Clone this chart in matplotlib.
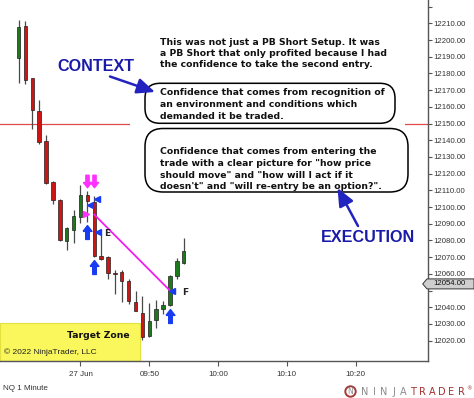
import matplotlib
matplotlib.use("Agg")
import matplotlib.pyplot as plt
import matplotlib.transforms as mtransforms
from matplotlib.patches import FancyBboxPatch, Rectangle, Polygon, Circle, FancyArrowPatch
from matplotlib.path import Path

# ---------------- data ----------------
bar_minutes = list(range(31, 56))          # minutes after 09:00 (09:31 .. 09:55)
opens  = [12189.5, 12208.5, 12177.0, 12157.5, 12139.5, 12115.0, 12104.5, 12079.5, 12086.5, 12094.0,
          12107.5, 12103.0, 12070.5, 12070.0, 12060.5, 12061.0, 12055.5, 12043.0, 12036.5, 12023.0,
          12032.5, 12039.0, 12041.5, 12059.0, 12066.5]
highs  = [12212.0, 12211.5, 12177.5, 12164.0, 12143.0, 12115.5, 12105.0, 12088.0, 12098.5, 12113.0,
          12109.5, 12106.5, 12084.0, 12070.5, 12062.5, 12062.5, 12057.0, 12049.5, 12046.5, 12042.5,
          12044.5, 12043.5, 12059.5, 12069.5, 12081.5]
lows   = [12174.0, 12173.5, 12147.0, 12138.0, 12114.0, 12102.0, 12079.5, 12074.5, 12078.5, 12090.5,
          12091.0, 12070.0, 12068.5, 12057.0, 12048.0, 12043.0, 12042.0, 12037.5, 12020.5, 12022.0,
          12027.5, 12036.0, 12040.5, 12057.0, 12066.0]
closes = [12208.0, 12176.0, 12158.0, 12139.0, 12114.5, 12104.5, 12080.5, 12087.5, 12094.5, 12107.0,
          12103.5, 12070.5, 12069.0, 12060.5, 12060.0, 12055.5, 12043.5, 12038.0, 12022.5, 12032.0,
          12039.0, 12041.5, 12058.5, 12067.5, 12073.5]

ref_line_price = 12150
last_price = 12054.00
target_zone_top = 12030.5
target_zone_end_minute = 48.7

x_tick_minutes = [40, 50, 60, 70, 80]
x_tick_labels = ["27 Jun", "09:50", "10:00", "10:10", "10:20"]
y_ticks = list(range(12020, 12230, 10))

# trade markers (minute, price)
short_arrow_minutes = [41, 42]
short_arrow_prices = [12115.5, 12115.5]
long_arrow_minutes = [41, 42, 53]
long_arrow_prices = [12085, 12064, 12035]
blue_tri_minutes = [41.4, 42.4, 42.55, 53.25]
blue_tri_prices = [12101, 12105, 12085, 12050]
pink_tri_minutes = [40.8]
pink_tri_prices = [12096]
trade_line_minutes = [42, 53]
trade_line_prices = [12095.5, 12050]
label_E = (43.4, 12084)
label_F = (54.8, 12049)

# ---------------- figure ----------------
W, H = 474, 398
fig = plt.figure(figsize=(W / 100, H / 100), dpi=100)
fig.patch.set_facecolor("white")
px = mtransforms.Affine2D().scale(1 / W, -1 / H).translate(0, 1) + fig.transFigure

ax = fig.add_axes([0, 37 / H, 427.5 / W, 361 / H])
ax.set_xlim(28.3, 90.44)
ax.set_ylim(12007.85, 12223.95)

# reference line
ax.axhline(ref_line_price, color="#e04a4a", lw=0.9, zorder=1)

# target zone
ax.add_patch(Rectangle((ax.get_xlim()[0], ax.get_ylim()[0]),
                       target_zone_end_minute - ax.get_xlim()[0],
                       target_zone_top - ax.get_ylim()[0],
                       facecolor="#f9f75c", edgecolor="#e4e040", lw=0.8, zorder=0.5))

# candles
green, red = "#1c7a1c", "#cf1414"
for m, o, h, l, c in zip(bar_minutes, opens, highs, lows, closes):
    ax.vlines(m, l, h, color="#4a4a4a", lw=0.9, zorder=2)
    col = green if c > o else red
    ax.bar(m, abs(c - o) if abs(c - o) > 0.4 else 0.4, bottom=min(o, c), width=0.5,
           color=col, edgecolor="#202020", lw=0.5, zorder=3)

# trade line & markers
ax.plot(trade_line_minutes, trade_line_prices, color="#f020f0", lw=1.3, zorder=4)

up_arrow = Path([(-0.32, 0.08), (0.0, 0.5), (0.32, 0.08), (0.13, 0.08), (0.13, -0.5),
                 (-0.13, -0.5), (-0.13, 0.08), (-0.32, 0.08)])
down_arrow = Path([(x, -y) for x, y in up_arrow.vertices])
ax.plot(short_arrow_minutes, short_arrow_prices, ls="none", marker=down_arrow, ms=9,
        color="#ff30ff", mec="#ff30ff", zorder=5)
ax.plot(long_arrow_minutes, long_arrow_prices, ls="none", marker=up_arrow, ms=10,
        color="#1a3cf0", mec="#1a3cf0", zorder=5)
ax.plot(blue_tri_minutes, blue_tri_prices, ls="none", marker="<", ms=4.2,
        color="#1a3cf0", mec="#1a3cf0", zorder=5)
ax.plot(pink_tri_minutes, pink_tri_prices, ls="none", marker=">", ms=4.2,
        color="#ff30ff", mec="#ff30ff", zorder=5)
ax.text(*label_E, "E", fontsize=6.5, fontweight="bold", color="#222222",
        va="center", ha="left", family="DejaVu Sans", zorder=6)
ax.text(*label_F, "F", fontsize=6.5, fontweight="bold", color="#222222",
        va="center", ha="left", family="DejaVu Sans", zorder=6)

# axes styling
for s in ["left", "top"]:
    ax.spines[s].set_visible(False)
for s in ["right", "bottom"]:
    ax.spines[s].set_color("#555555")
    ax.spines[s].set_linewidth(1.0)
ax.yaxis.tick_right()
ax.set_yticks(y_ticks)
ax.set_yticklabels(["" if v in (12050, 12220) else f"{v:.2f}" for v in y_ticks])
ax.set_xticks(x_tick_minutes)
ax.set_xticklabels(x_tick_labels)
ax.tick_params(axis="y", length=3, width=0.8, pad=1.5, labelsize=5.6, colors="#555555",
               labelcolor="#333333")
ax.tick_params(axis="x", length=3.5, width=0.8, pad=3.5, labelsize=5.8, colors="#555555",
               labelcolor="#333333")
for lab in ax.get_xticklabels() + ax.get_yticklabels():
    lab.set_family("Liberation Sans")

# price marker on the right axis
yfrac = (last_price - ax.get_ylim()[0]) / (ax.get_ylim()[1] - ax.get_ylim()[0])
ybl = mtransforms.blended_transform_factory(ax.transAxes, ax.transAxes)
hh = 5.0 / 361
x_tip = 422.7 / 427.5
x_l = 427.0 / 427.5
x_r = 474.0 / 427.5
ax.add_patch(Polygon([(x_tip, yfrac), (x_l, yfrac + hh), (x_r, yfrac + hh), (x_r, yfrac - hh),
                      (x_l, yfrac - hh)], closed=True, transform=ybl, clip_on=False,
                     facecolor="#cfcfcf", edgecolor="#333333", lw=0.7, zorder=10))
ax.text(433.0 / 427.5, yfrac, f"{last_price:.2f}", transform=ybl, fontsize=5.6,
        family="Liberation Sans", color="#111111", va="center", ha="left", zorder=11,
        clip_on=False)

# ---------------- annotations (figure-pixel coordinates) ----------------
blue_txt = "#1a1aa8"
blue_arr = "#2323c0"
fig.text(57, 71, "CONTEXT", transform=px, fontsize=11.6, fontweight="bold",
         family="Liberation Sans", color=blue_txt, va="baseline", ha="left")
fig.text(320.7, 241.7, "EXECUTION", transform=px, fontsize=11.6, fontweight="bold",
         family="Liberation Sans", color=blue_txt, va="baseline", ha="left")

# white cover behind annotation boxes (hides the reference line there)
fig.add_artist(Rectangle((130, 119), 275, 10, transform=px, facecolor="white",
                         edgecolor="none", zorder=1))

box1 = FancyBboxPatch((145, 83.3), 250, 40, boxstyle="round,pad=0,rounding_size=15",
                      transform=px, facecolor="white", edgecolor="black", lw=1.1, zorder=2)
box2 = FancyBboxPatch((145, 128.5), 263, 63.5, boxstyle="round,pad=0,rounding_size=18",
                      transform=px, facecolor="white", edgecolor="black", lw=1.1, zorder=2)
fig.add_artist(box1)
fig.add_artist(box2)

header = ["This was not just a PB Short Setup. It was",
          "a PB Short that only profited because I had",
          "the confidence to take the second entry."]
box1_lines = ["Confidence that comes from recognition of",
              "an environment and conditions which",
              "demanded it be traded."]
box2_lines = ["Confidence that comes from entering the",
              "trade with a clear picture for \"how price",
              "should move\" and \"how will I act if it",
              "doesn't\" and \"will re-entry be an option?\"."]

def put_lines(lines, x0, y0, dy):
    for i, s in enumerate(lines):
        fig.text(x0, y0 + i * dy, s, transform=px, fontsize=6.7, fontweight="bold",
                 family="DejaVu Sans", color="#111111", va="baseline", ha="left", zorder=3)

put_lines(header, 160.5, 45.0, 10.8)
put_lines(box1_lines, 160.5, 95.0, 12.0)
put_lines(box2_lines, 160.5, 154.5, 11.6)

for (x0, y0), (x1, y1) in [((110, 76.5), (155, 92)), ((358, 226), (337.5, 188))]:
    fig.add_artist(FancyArrowPatch((x0, y0), (x1, y1), transform=px,
                                   arrowstyle="-|>,head_length=0.6,head_width=0.26",
                                   mutation_scale=18, lw=1.8, color=blue_arr, zorder=4,
                                   shrinkA=0, shrinkB=0))

# target zone texts
fig.text(66.7, 338.5, "Target Zone", transform=px, fontsize=6.7, fontweight="bold",
         family="DejaVu Sans", color="#111111", va="baseline", ha="left")
fig.text(4, 354, "\u00a9 2022 NinjaTrader, LLC", transform=px, fontsize=6.0,
         family="Liberation Sans", color="#222222", va="baseline", ha="left")

# bottom texts
fig.text(3.3, 389.5, "NQ 1 Minute", transform=px, fontsize=5.8,
         family="Liberation Sans", color="#333333", va="baseline", ha="left")

# NinjaTrader logo
fig.add_artist(Circle((350.5, 391.5), 5.2, transform=px, facecolor="none",
                      edgecolor="#a23a3a", lw=1.4))
fig.text(350.5, 391.7, "N", transform=px, fontsize=5.5, color="#8a8a8a",
         family="DejaVu Sans", va="center", ha="center")
for i, ch in enumerate("NINJATRADER"):
    fig.text(364.5 + i * 9.65, 395, ch, transform=px, fontsize=7.0,
             family="DejaVu Sans", color="#8c8c8c" if i < 5 else "#a33030",
             va="baseline", ha="center")
fig.text(469.5, 390, "\u00ae", transform=px, fontsize=4, color="#a33030",
         family="DejaVu Sans", va="baseline", ha="center")

fig.savefig("out.png", dpi=100)
